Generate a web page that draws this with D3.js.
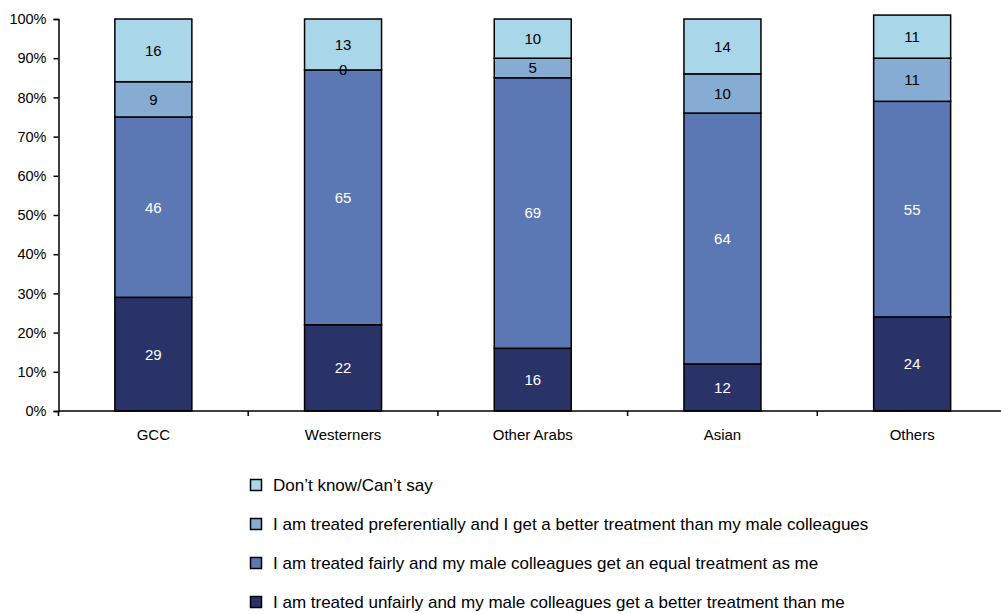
<!DOCTYPE html>
<html>
<head>
<meta charset="utf-8">
<script src="https://cdn.jsdelivr.net/npm/d3@7"></script>
<style>
  body { margin: 0; background: #fff; }
  svg { display: block; font-family: "Liberation Sans", Arial, sans-serif; }
</style>
</head>
<body>
<div id="chart"></div>
<script>
// data
let categories = ["GCC", "Westerners", "Other Arabs", "Asian", "Others"];
let unfairly = [29, 22, 16, 12, 24];
let fairly = [46, 65, 69, 64, 55];
let preferentially = [9, 0, 5, 10, 11];
let dontKnow = [16, 13, 10, 14, 11];

let seriesNames = [
  "I am treated unfairly and my male colleagues get a better treatment than me",
  "I am treated fairly and my male colleagues get an equal treatment as me",
  "I am treated preferentially and I get a better treatment than my male colleagues",
  "Don\u2019t know/Can\u2019t say"
];
let seriesColors = ["#2a3368", "#5b78b5", "#86acd4", "#a9d7e9"];
let labelColors = ["#fff", "#fff", "#000", "#000"];
let yTicks = [0, 10, 20, 30, 40, 50, 60, 70, 80, 90, 100];

let w = 1001, h = 614;

let svg = d3.select("#chart").append("svg")
    .attr("width", w)
    .attr("height", h);

// build table for stacking
let keys = ["unfairly", "fairly", "preferentially", "dontKnow"];
let table = categories.map((c, i) => ({
  cat: c,
  unfairly: unfairly[i],
  fairly: fairly[i],
  preferentially: preferentially[i],
  dontKnow: dontKnow[i]
}));
let stacked = d3.stack().keys(keys)(table);

let xScale = d3.scaleBand().domain(categories).range([58.5, 1007]).paddingInner(0).paddingOuter(0);
let yScale = d3.scaleLinear().domain([0, 100]).range([411, 19]);
let barW = 77;

// y axis
let yAxis = d3.axisLeft(yScale).tickValues(yTicks).tickSize(5).tickPadding(7)
    .tickFormat(d => d + "%");
let yAxisGroup = svg.append("g").attr("transform", "translate(58.5,0)").call(yAxis);
yAxisGroup.select(".domain").attr("stroke", "#000").attr("stroke-width", 1.5);
yAxisGroup.selectAll(".tick line").attr("stroke", "#000").attr("stroke-width", 1.5);
yAxisGroup.selectAll(".tick text").attr("font-size", 14.5).attr("fill", "#000")
    .attr("font-family", "Liberation Sans, Arial, sans-serif");

// bars
let layers = svg.append("g").selectAll("g.layer").data(stacked).enter()
  .append("g").attr("class", "layer")
  .attr("fill", (d, i) => seriesColors[i]);

layers.selectAll("rect").data(d => d).enter()
  .append("rect")
  .attr("x", d => xScale(d.data.cat) + xScale.bandwidth() / 2 - barW / 2)
  .attr("y", d => yScale(d[1]))
  .attr("width", barW)
  .attr("height", d => yScale(d[0]) - yScale(d[1]))
  .attr("stroke", "#000")
  .attr("stroke-width", 1.5);

// value labels
stacked.forEach((layer, li) => {
  svg.append("g").selectAll("text").data(layer).enter()
    .append("text")
    .attr("x", d => xScale(d.data.cat) + xScale.bandwidth() / 2)
    .attr("y", d => yScale((d[0] + d[1]) / 2))
    .attr("dy", "0.36em")
    .attr("text-anchor", "middle")
    .attr("font-size", 15)
    .attr("fill", labelColors[li])
    .text(d => d[1] - d[0]);
});

// x axis
let xAxis = d3.axisBottom(xScale).tickSize(0).tickPadding(18.5);
let xAxisGroup = svg.append("g").attr("transform", "translate(0,411)").call(xAxis);
xAxisGroup.select(".domain").remove();
xAxisGroup.selectAll(".tick text").attr("font-size", 15).attr("fill", "#000")
    .attr("font-family", "Liberation Sans, Arial, sans-serif");
svg.append("line")
  .attr("x1", 58.5).attr("x2", 1007)
  .attr("y1", 411).attr("y2", 411)
  .attr("stroke", "#000").attr("stroke-width", 1.5);
// boundary ticks between categories
let bounds = categories.map(c => xScale(c)).concat([xScale(categories[categories.length - 1]) + xScale.bandwidth()]);
svg.append("g").selectAll("line").data(bounds).enter()
  .append("line")
  .attr("x1", d => d).attr("x2", d => d)
  .attr("y1", 411).attr("y2", 416)
  .attr("stroke", "#000").attr("stroke-width", 1.5);

// legend (top series first)
let legendOrder = [3, 2, 1, 0];
let legend = svg.append("g").selectAll("g").data(legendOrder).enter()
  .append("g")
  .attr("transform", (d, i) => "translate(250.5," + (485 + i * 39) + ")");
legend.append("rect")
  .attr("x", 0).attr("y", -5.5)
  .attr("width", 11).attr("height", 11)
  .attr("fill", d => seriesColors[d])
  .attr("stroke", "#000").attr("stroke-width", 1.5);
legend.append("text")
  .attr("x", 22.5).attr("y", 6)
  .attr("font-size", 17)
  .attr("fill", "#000")
  .text(d => seriesNames[d]);
</script>
</body>
</html>
